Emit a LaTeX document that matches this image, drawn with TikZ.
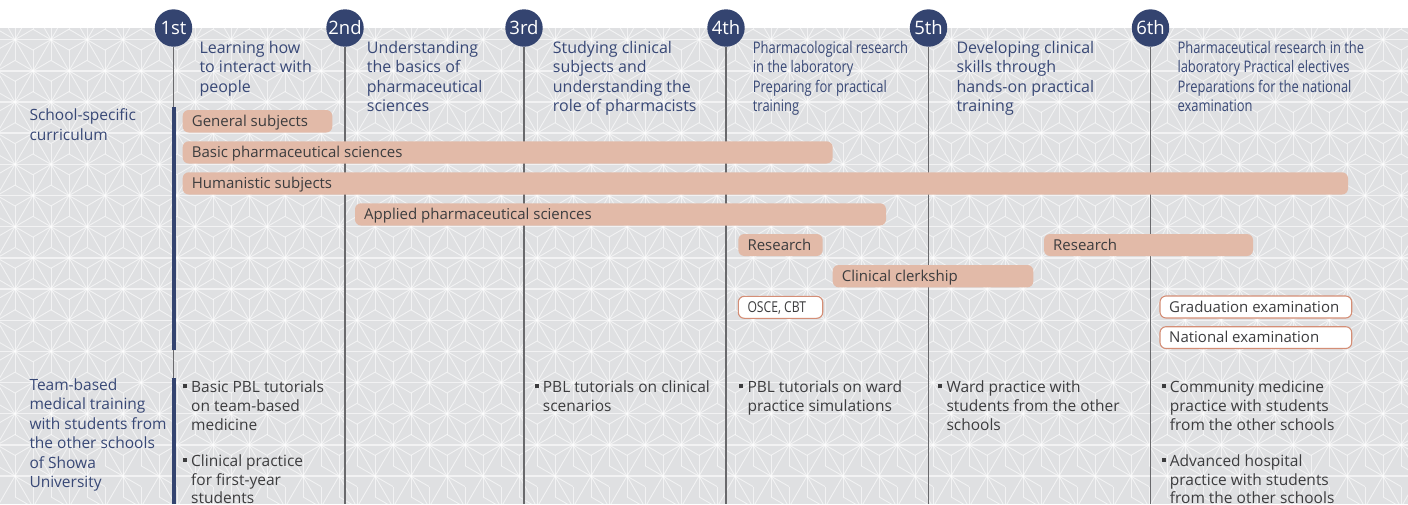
\documentclass[tikz,border=0pt]{standalone}
\usepackage{fontspec}
\setmainfont{Open Sans}
\newfontfamily\condfont{Open Sans}[FakeStretch=0.81]
\definecolor{navycolor}{RGB}{52,68,112}
\definecolor{titlecolor}{RGB}{56,72,118}
\definecolor{coursecolor}{RGB}{226,186,168}
\definecolor{examcolor}{RGB}{212,142,118}
\definecolor{bgcolor}{RGB}{223,224,226}
\definecolor{rulecolor}{RGB}{105,105,108}
\definecolor{bodycolor}{RGB}{60,60,62}
\newcommand{\course}[6]{%
  \filldraw[fill=coursecolor, draw=none, rounded corners=6pt]
    (#2,#3) rectangle (#4,#5);
  \node[bartext] (#1) at (#2+9, #3/2+#5/2+5.3) {#6};
}
\newcommand{\exam}[6]{%
  \filldraw[fill=white, draw=examcolor, line width=1.1pt, rounded corners=6pt]
    (#2,#3) rectangle (#4,#5);
  \node[bartext] (#1) at (#2+9, #3/2+#5/2+5.3) {#6};
}
\newcommand{\sq}{\llap{\rule[4.2pt]{4pt}{4pt}\hspace{4.3pt}}}

\begin{document}
\begin{tikzpicture}[x=1pt, y=-1pt,
    hemp/.style={draw=white, opacity=0.6, line width=0.9pt},
    yearball/.style={circle, fill=navycolor, minimum size=37.4pt, inner sep=0pt,
      text=white, font=\fontsize{18.5}{18}\selectfont},
    yearline/.style={draw=rulecolor, line width=1.4pt},
    titletext/.style={anchor=north west, inner sep=0pt, align=left, text=titlecolor,
      font=\fontsize{16}{19.5}\selectfont},
    rowlabel/.style={anchor=north west, inner sep=0pt, align=left, text=titlecolor,
      font=\fontsize{15.5}{19.5}\selectfont},
    itemtext/.style={anchor=north west, inner sep=0pt, align=left, text=bodycolor,
      font=\fontsize{15.5}{18.9}\selectfont},
    bartext/.style={anchor=base west, inner sep=0pt, text=bodycolor,
      font=\fontsize{15}{15}\selectfont}]
  \useasboundingbox (0,0) rectangle (1408,504);
  % Background with hemp-leaf pattern
  \begin{scope}
    \clip (0,28) rectangle (1408,504);
    \fill[bgcolor] (0,28) rectangle (1408,504);
    \foreach \r in {-7,...,9}
      \draw[hemp, line width=1.4pt] (0,226.7+31.177*\r) -- (1408,226.7+31.177*\r);
    \foreach \k in {-15,...,50} {
      \draw[hemp] (15+36*\k,226.7) ++(-200,-346.4) -- ++(400,692.8);
      \draw[hemp] (15+36*\k,226.7) ++(200,-346.4) -- ++(-400,692.8);
      \draw[hemp, dash pattern=on 41.57pt off 20.78pt]
        (15+36*\k,226.7) ++(-395.97,-228.6) -- ++(917.95,529.98);
      \draw[hemp, dash pattern=on 41.57pt off 20.78pt]
        (15+36*\k,226.7) ++(-395.97,228.6) -- ++(917.95,-529.98);
    }
    \foreach \m in {-1,...,78} {
      \pgfmathsetmacro\yo{226.7+31.177*mod(\m+2,2)}
      \draw[hemp, dash pattern=on 41.57pt off 20.78pt]
        (15+18*\m,\yo-270.18) -- ++(0,561.15);
    }
  \end{scope}
  % Years
  \foreach \x/\lab/\nm in {173.5/1st/one, 345/2nd/two, 524/3rd/three,
      726/4th/four, 928.5/5th/five, 1150.5/6th/six} {
    \node[yearball] (y\nm) at (\x,28) {\lab};
    \coordinate (e\nm) at (\x,504);
    \draw[yearline] (y\nm.south) -- (e\nm);
  }
  \draw[navycolor, line width=4pt] (173.5,107) -- (173.5,350);
  \draw[navycolor, line width=4pt] (173.5,378) -- (eone);
  % Year goals
  \node[titletext] (t1) at (199.3,41) {Learning how\\to interact with\\people};
  \node[titletext] (t2) at (366.7,41) {Understanding\\the basics of\\pharmaceutical\\sciences};
  \node[titletext] (t3) at (552.7,41) {Studying clinical\\subjects and\\understanding the\\role of pharmacists};
  \node[titletext, font=\fontsize{16}{19.5}\selectfont\condfont] (t4) at (752.7,41)
    {Pharmacological research\\in the laboratory\\Preparing for practical\\training};
  \node[titletext] (t5) at (956.3,41) {Developing clinical\\skills through\\hands-on practical\\training};
  \node[titletext, font=\fontsize{16}{19.5}\selectfont\condfont] (t6) at (1177.3,41)
    {Pharmaceutical research in the\\laboratory Practical electives\\Preparations for the national\\examination};
  % Row labels
  \node[rowlabel] (school) at (29.3,108.5) {School-specific\\curriculum};
  \node[rowlabel] (team) at (29.3,378.5)
    {Team-based\\medical training\\with students from\\the other schools\\of Showa\\University};
  % Courses (name, x1, y1, x2, y2, label)
  \course{gen}{182.7}{110}{332.3}{132.5}{General subjects}
  \course{basic}{182.7}{141.3}{832.7}{163.5}{Basic pharmaceutical sciences}
  \course{human}{182.7}{172.3}{1348}{194.5}{Humanistic subjects}
  \course{applied}{355}{203.3}{886}{225.5}{Applied pharmaceutical sciences}
  \course{resa}{738.3}{234}{822.7}{256}{Research}
  \course{resb}{1044}{234}{1253}{256}{Research}
  \course{clerk}{832.7}{265}{1033.3}{287.3}{Clinical clerkship}
  \exam{osce}{738.3}{296.3}{822.7}{318.3}{\condfont OSCE, CBT}
  \exam{grad}{1160}{296}{1351.7}{318}{Graduation examination}
  \exam{nat}{1160}{326.7}{1351.7}{348.5}{National examination}
  % Team-based training
  \node[itemtext] (b1a) at (191,380.5) {\sq Basic PBL tutorials\\on team-based\\medicine};
  \node[itemtext] (b1b) at (191,454.2) {\sq Clinical practice\\for first-year\\students};
  \node[itemtext] (b3) at (542.7,380.5) {\sq PBL tutorials on clinical\\scenarios};
  \node[itemtext] (b4) at (747.3,380.5) {\sq PBL tutorials on ward\\practice simulations};
  \node[itemtext] (b5) at (946.3,380.5) {\sq Ward practice with\\students from the other\\schools};
  \node[itemtext] (b6a) at (1169.7,380.5) {\sq Community medicine\\practice with students\\from the other schools};
  \node[itemtext] (b6b) at (1169.7,454.2) {\sq Advanced hospital\\practice with students\\from the other schools};
\end{tikzpicture}
\end{document}
